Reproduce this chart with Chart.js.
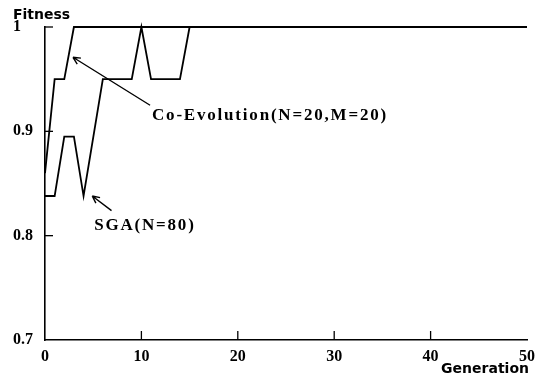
<!DOCTYPE html>
<html>
<head>
<meta charset="utf-8">
<script src="https://cdn.jsdelivr.net/npm/chart.js@4.4.1/dist/chart.umd.min.js"></script>
<style>
    html, body { margin: 0; padding: 0; background: #ffffff; }
    #wrap { width: 542px; height: 380px; position: relative; }
</style>
</head>
<body>
<div id="wrap"><canvas id="fitChart"></canvas></div>
<script>

/* =====================================
   DATA
===================================== */

const generations = Array.from({ length: 51 }, (_, i) => i);

const sgaFitness = [
    0.838, 0.838, 0.895, 0.895, 0.838, 0.894, 0.95, 0.95, 0.95, 0.95,
    1, 0.95, 0.95, 0.95, 0.95, 1, 1, 1, 1, 1,
    1, 1, 1, 1, 1, 1, 1, 1, 1, 1,
    1, 1, 1, 1, 1, 1, 1, 1, 1, 1,
    1, 1, 1, 1, 1, 1, 1, 1, 1, 1,
    1
];

const coEvoFitness = [
    0.86, 0.95, 0.95, 1, 1, 1, 1, 1, 1, 1,
    1, 1, 1, 1, 1, 1, 1, 1, 1, 1,
    1, 1, 1, 1, 1, 1, 1, 1, 1, 1,
    1, 1, 1, 1, 1, 1, 1, 1, 1, 1,
    1, 1, 1, 1, 1, 1, 1, 1, 1, 1,
    1
];

const xTicks = [0, 10, 20, 30, 40, 50];
const yTicks = [0.7, 0.8, 0.9, 1];
const yTickLabels = ["0.7", "0.8", "0.9", "1"];

const seriesNames = ["Co-Evolution(N=20,M=20)", "SGA(N=80)"];


/* =====================================
   ANNOTATIONS (arrow head / tail / text in data units)
===================================== */

const notes = [
    { text: seriesNames[0], head: [2.9, 0.971], tail: [10.9, 0.925], at: [11.1, 0.915] },
    { text: seriesNames[1], head: [4.9, 0.838], tail: [6.9, 0.824], at: [5.1, 0.81] }
];

const serif = "'Liberation Serif', 'Times New Roman', serif";
const sans = "'DejaVu Sans', sans-serif";

const figurePlugin = {
    id: "figureDecor",
    afterDraw(chart) {
        const ctx = chart.ctx;
        const x = chart.scales.x;
        const y = chart.scales.y;
        const area = chart.chartArea;

        ctx.save();
        ctx.strokeStyle = "#000";
        ctx.fillStyle = "#000";
        ctx.lineWidth = 1.3;

        // inward tick marks
        xTicks.forEach(v => {
            if (v === 0 || v === 50) return;
            const px = x.getPixelForValue(v);
            ctx.beginPath();
            ctx.moveTo(px, area.bottom);
            ctx.lineTo(px, area.bottom - 9);
            ctx.stroke();
        });
        yTicks.forEach(v => {
            if (v === 0.7) return;
            const py = y.getPixelForValue(v);
            ctx.beginPath();
            ctx.moveTo(area.left, py);
            ctx.lineTo(area.left + 8, py);
            ctx.stroke();
        });

        // arrows + labels
        notes.forEach(n => {
            const hx = x.getPixelForValue(n.head[0]);
            const hy = y.getPixelForValue(n.head[1]);
            const tx = x.getPixelForValue(n.tail[0]);
            const ty = y.getPixelForValue(n.tail[1]);
            const ang = Math.atan2(hy - ty, hx - tx);

            ctx.lineWidth = 1.4;
            ctx.beginPath();
            ctx.moveTo(tx, ty);
            ctx.lineTo(hx, hy);
            ctx.moveTo(hx, hy);
            ctx.lineTo(hx - 8 * Math.cos(ang - 0.45), hy - 8 * Math.sin(ang - 0.45));
            ctx.moveTo(hx, hy);
            ctx.lineTo(hx - 8 * Math.cos(ang + 0.45), hy - 8 * Math.sin(ang + 0.45));
            ctx.stroke();

            ctx.font = "bold 17px " + serif;
            ctx.letterSpacing = "1.8px";
            ctx.textAlign = "left";
            ctx.textBaseline = "middle";
            ctx.fillText(n.text, x.getPixelForValue(n.at[0]), y.getPixelForValue(n.at[1]));
        });

        // axis titles
        ctx.letterSpacing = "0px";
        ctx.font = "bold 14px " + sans;
        ctx.textAlign = "left";
        ctx.textBaseline = "middle";
        ctx.fillText("Fitness", 13, 15);

        ctx.font = "bold 14px " + sans;
        ctx.textAlign = "right";
        ctx.fillText("Generation", 529, 369);

        ctx.restore();
    }
};


/* =====================================
   CHART
===================================== */

const ctx = document.getElementById("fitChart").getContext("2d");

const chart = new Chart(ctx, {
    type: "line",
    data: {
        labels: generations,
        datasets: [
            {
                label: seriesNames[0],
                data: generations.map((g, i) => ({ x: g, y: coEvoFitness[i] })),
                borderColor: "#000",
                borderWidth: 1.8,
                pointRadius: 0,
                tension: 0,
                clip: false
            },
            {
                label: seriesNames[1],
                data: generations.map((g, i) => ({ x: g, y: sgaFitness[i] })),
                borderColor: "#000",
                borderWidth: 1.8,
                pointRadius: 0,
                tension: 0,
                clip: false
            }
        ]
    },
    options: {
        responsive: true,
        maintainAspectRatio: false,
        animation: false,
        events: [],
        layout: {
            padding: { left: 13, top: 27, right: 9, bottom: 0 }
        },
        plugins: {
            legend: { display: false },
            tooltip: { enabled: false },
            title: { display: false }
        },
        scales: {
            x: {
                type: "linear",
                min: 0,
                max: 50,
                afterBuildTicks: s => { s.ticks = xTicks.map(v => ({ value: v })); },
                afterFit: s => { s.height = 40; },
                grid: { display: false, drawTicks: false },
                border: { display: true, color: "#000", width: 1.6 },
                ticks: {
                    color: "#000",
                    padding: 7,
                    maxRotation: 0,
                    font: { family: serif, size: 16, weight: "bold" },
                    callback: v => String(v)
                }
            },
            y: {
                type: "linear",
                min: 0.7,
                max: 1,
                afterBuildTicks: s => { s.ticks = yTicks.map(v => ({ value: v })); },
                afterFit: s => { s.width = 32; },
                grid: { display: false, drawTicks: false },
                border: { display: true, color: "#000", width: 1.6 },
                ticks: {
                    color: "#000",
                    crossAlign: "far",
                    padding: 4,
                    font: { family: serif, size: 16, weight: "bold" },
                    callback: (v, i) => yTickLabels[i]
                }
            }
        }
    },
    plugins: [figurePlugin]
});

</script>
</body>
</html>
